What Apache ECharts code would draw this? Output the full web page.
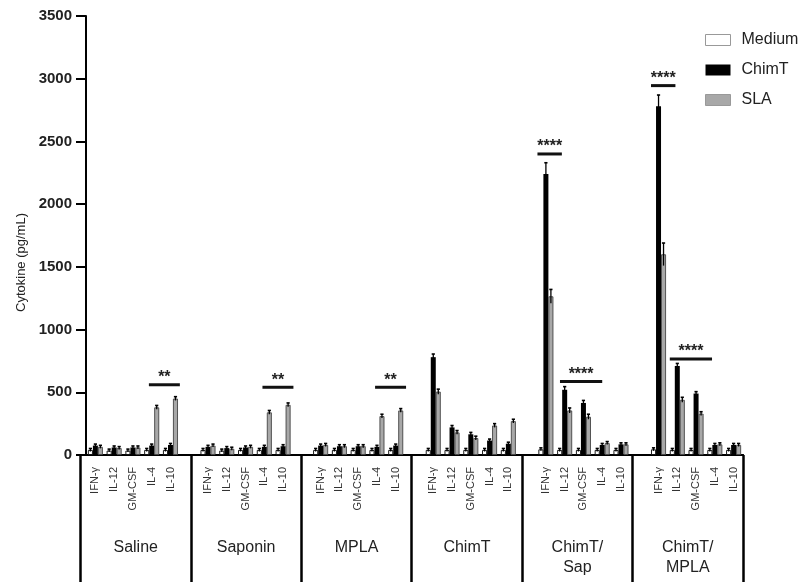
<!DOCTYPE html>
<html><head><meta charset="utf-8">
<script src="https://cdn.jsdelivr.net/npm/echarts@6/dist/echarts.min.js"></script>
<style>html,body{margin:0;padding:0;background:#fff}#c{width:808px;height:582px}</style>
</head><body><div id="c"></div>
<script>
// ---------- data ----------
const groups = ['Saline', 'Saponin', 'MPLA', 'ChimT', 'ChimT/\nSap', 'ChimT/\nMPLA'];
const cytokines = ['IFN-γ', 'IL-12', 'GM-CSF', 'IL-4', 'IL-10'];
const seriesNames = ['Medium', 'ChimT', 'SLA'];
// values per group (Saline, Saponin, MPLA, ChimT, ChimT/Sap, ChimT/MPLA), 5 cytokines each
const mediumVals = [40,35,35,40,40, 40,35,40,40,40, 40,40,40,40,40, 40,40,40,40,40, 45,40,40,40,40, 45,40,40,40,40];
const mediumErr  = [12,12,12,12,12, 12,12,12,12,12, 12,12,12,12,12, 12,12,12,12,12, 12,12,12,12,12, 12,12,12,12,12];
const chimtVals  = [75,60,60,75,80, 65,55,60,65,70, 75,70,70,65,75, 780,220,165,115,90, 2240,520,415,80,85, 2780,710,490,80,80];
const chimtErr   = [12,12,12,12,12, 12,12,12,12,12, 12,12,12,12,12, 25,15,15,12,12, 90,25,20,12,12, 90,20,15,12,12];
const slaVals    = [65,55,60,380,450, 75,50,65,340,400, 80,70,70,310,355, 505,180,135,235,270, 1265,355,305,95,85, 1600,440,330,85,80];
const slaErr     = [12,12,12,15,15, 12,12,12,15,15, 12,12,12,15,15, 20,15,15,15,15, 55,20,20,12,12, 90,20,15,12,12];
const yMin = 0, yMax = 3500, yInterval = 500;
// significance annotations: start/end (category index units), height (pg/mL), label
const sigStart = [2.85, 8.9, 14.9, 23.55, 24.75, 29.6, 30.6];
const sigEnd   = [4.5, 10.55, 16.55, 24.85, 27.0, 30.9, 32.85];
const sigY     = [560, 540, 540, 2400, 585, 2945, 765];
const sigText  = ['**', '**', '**', '****', '****', '****', '****'];

// ---------- build ----------
const categories = [];
const catIndex = []; // flat data index -> category index
groups.forEach((g, gi) => {
  cytokines.forEach((c, ci) => { catIndex.push(categories.length); categories.push(c); });
  if (gi < groups.length - 1) categories.push('');
});
function toCat(vals) {
  const arr = categories.map(() => null);
  vals.forEach((v, i) => { arr[catIndex[i]] = v; });
  return arr;
}
const allVals = [mediumVals, chimtVals, slaVals];
const allErr = [mediumErr, chimtErr, slaErr];
const barW = 5;
const fills = ['#ffffff', '#000000', '#a8a8a8'];
const borders = ['#000000', '#000000', '#444444'];

const series = [];
seriesNames.forEach((n, si) => {
  series.push({
    name: n, type: 'bar', xAxisIndex: 0, yAxisIndex: 0,
    data: toCat(allVals[si]), barWidth: barW, barGap: '0%',
    itemStyle: { color: fills[si], borderColor: borders[si], borderWidth: si === 1 ? 0 : 0.9 },
    emphasis: { disabled: true }, animation: false, z: 2
  });
});
seriesNames.forEach((n, si) => {
  const off = (si - 1) * barW;
  series.push({
    type: 'custom', xAxisIndex: 0, yAxisIndex: 0, z: 3, animation: false, silent: true,
    data: allVals[si].map((v, i) => [catIndex[i], v, allErr[si][i]]),
    renderItem: (params, api) => {
      const idx = api.value(0), v = api.value(1), e = api.value(2);
      const top = api.coord([idx, v + e]);
      const bot = api.coord([idx, Math.max(v - e, 0)]);
      const x = top[0] + off;
      return { type: 'group', children: [
        { type: 'line', shape: { x1: x, y1: top[1], x2: x, y2: bot[1] }, style: { stroke: '#000', lineWidth: 1.3 } },
        { type: 'line', shape: { x1: x - 1.6, y1: top[1], x2: x + 1.6, y2: top[1] }, style: { stroke: '#000', lineWidth: 1.6 } }
      ]};
    }
  });
});
series.push({
  type: 'custom', xAxisIndex: 0, yAxisIndex: 0, z: 4, animation: false, silent: true,
  data: sigY.map((y, i) => [sigStart[i], sigEnd[i], y, i]),
  renderItem: (params, api) => {
    const s = api.value(0), e = api.value(1), y = api.value(2), i = api.value(3);
    const w = api.size([1, 0])[0];
    const p0 = api.coord([Math.floor(s), y]);
    const p1 = api.coord([Math.floor(e), y]);
    const x0 = p0[0] + (s - Math.floor(s)) * w;
    const x1 = p1[0] + (e - Math.floor(e)) * w;
    return { type: 'group', children: [
      { type: 'line', shape: { x1: x0, y1: p0[1], x2: x1, y2: p0[1] }, style: { stroke: '#111', lineWidth: 3 } },
      { type: 'text', x: (x0 + x1) / 2, y: p0[1] + 1, style: { text: sigText[i], fill: '#222', font: 'bold 16px "Liberation Sans", Arial, sans-serif', align: 'center', verticalAlign: 'bottom' } }
    ]};
  }
});

const chart = echarts.init(document.getElementById('c'), null, { renderer: 'canvas' });
chart.setOption({
  animation: false,
  backgroundColor: '#fff',
  textStyle: { fontFamily: '"Liberation Sans", Arial, sans-serif' },
  grid: [
    { left: 86, right: 65, top: 16, bottom: 127, outerBoundsMode: 'none' },
    { left: 80.5, right: 65, top: 455, bottom: 0, outerBoundsMode: 'none' }
  ],
  legend: {
    orient: 'vertical', left: 705, top: 31, padding: 0, itemWidth: 25, itemHeight: 11, itemGap: 12,
    textStyle: { fontSize: 16, color: '#222', padding: [0, 0, 0, 6], lineHeight: 18 },
    data: [
      { name: 'Medium', icon: 'rect', itemStyle: { color: '#fff', borderColor: '#999', borderWidth: 1 } },
      { name: 'ChimT', icon: 'rect', itemStyle: { color: '#000', borderColor: '#000', borderWidth: 0 } },
      { name: 'SLA', icon: 'rect', itemStyle: { color: '#a8a8a8', borderColor: '#999', borderWidth: 1 } }
    ],
    selectedMode: false
  },
  xAxis: [
    {
      type: 'category', gridIndex: 0, data: categories, boundaryGap: true,
      axisLine: { lineStyle: { color: '#000', width: 2 } },
      axisTick: { show: false },
      axisLabel: { interval: 0, rotate: 90, margin: 12, fontSize: 11, color: '#333' },
      splitLine: { show: false }
    },
    {
      type: 'category', gridIndex: 1, data: groups, position: 'top', boundaryGap: true,
      axisLine: { show: true, onZero: false, lineStyle: { color: '#000', width: 2 } },
      axisTick: { show: false },
      axisLabel: { inside: true, interval: 0, margin: 83, fontSize: 16, lineHeight: 20, color: '#222', verticalAlign: 'top' },
      splitLine: { show: true, interval: 0, lineStyle: { color: '#000', width: 2.5 } }
    }
  ],
  yAxis: [
    {
      type: 'value', gridIndex: 0, min: yMin, max: yMax, interval: yInterval,
      name: 'Cytokine (pg/mL)', nameLocation: 'middle', nameGap: 58, nameRotate: 90,
      nameTextStyle: { fontSize: 13, color: '#222', padding: [0, 54, 0, 0] },
      axisLine: { show: true, lineStyle: { color: '#000', width: 2 } },
      axisTick: { show: true, length: 10, lineStyle: { color: '#000', width: 2 } },
      axisLabel: { margin: 14, fontSize: 15, fontWeight: 'bold', color: '#222', formatter: v => String(v) },
      splitLine: { show: false }
    },
    { type: 'value', gridIndex: 1, show: false, min: 0, max: 1 }
  ],
  series: series
});
</script>
</body></html>
